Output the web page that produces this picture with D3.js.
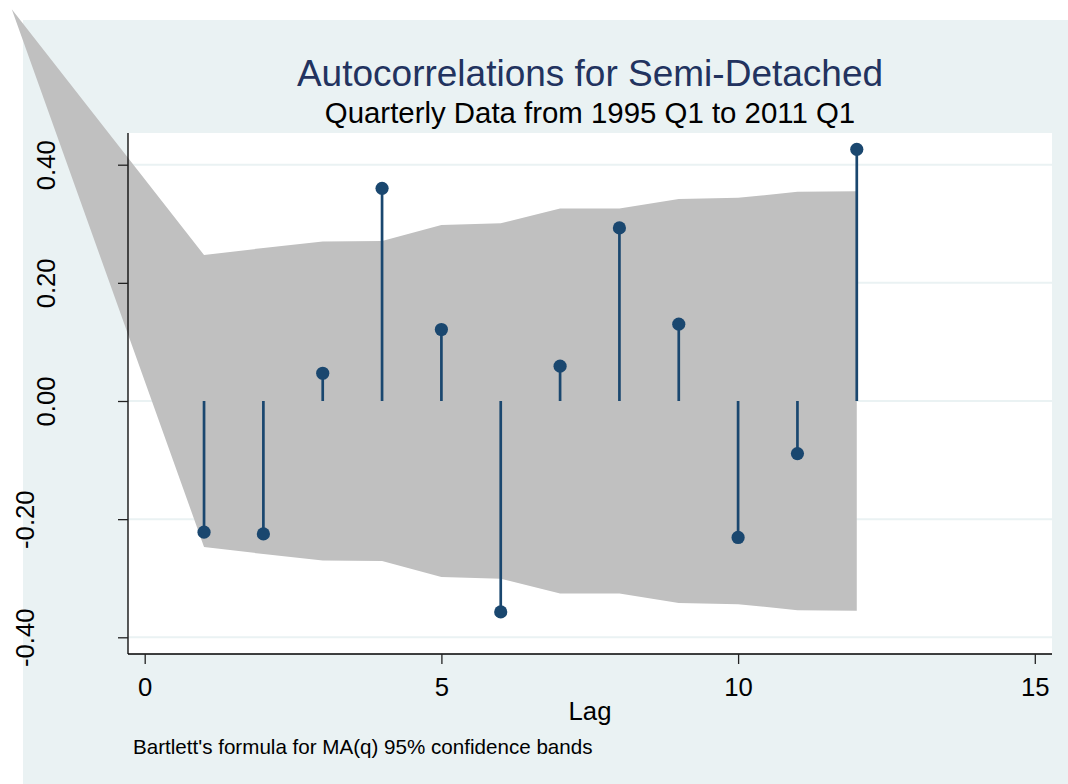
<!DOCTYPE html>
<html>
<head>
<meta charset="utf-8">
<script src="https://cdn.jsdelivr.net/npm/d3@7"></script>
<style>
  html, body { margin: 0; padding: 0; background: #ffffff; }
  svg { display: block; font-family: "Liberation Sans", Arial, sans-serif; }
</style>
</head>
<body>
<svg id="chart" width="1068" height="784"></svg>
<script>
// Autocorrelation estimates by lag
const lags = [1, 2, 3, 4, 5, 6, 7, 8, 9, 10, 11, 12];
const acf = [-0.222, -0.225, 0.047, 0.360, 0.121, -0.357, 0.059, 0.293, 0.130, -0.231, -0.089, 0.426];

// Bartlett 95% confidence band; the first vertex is where the band closes
const bandLags = [-2.24, 1, 2, 3, 4, 5, 6, 7, 8, 9, 10, 11, 12];
const bandUpper = [0.663, 0.247, 0.259, 0.270, 0.271, 0.298, 0.301, 0.326, 0.326, 0.342, 0.344, 0.354, 0.355];
const bandLower = [0.663, -0.247, -0.259, -0.270, -0.271, -0.298, -0.301, -0.326, -0.326, -0.342, -0.344, -0.354, -0.355];

// Axis ticks
const xTicks = [0, 5, 10, 15];
const yTicks = [-0.4, -0.2, 0, 0.2, 0.4];
const yTickLabels = ["-0.40", "-0.20", "0.00", "0.20", "0.40"];

const titleText = "Autocorrelations for Semi-Detached";
const subtitleText = "Quarterly Data from 1995 Q1 to 2011 Q1";
const xTitle = "Lag";
const noteText = "Bartlett's formula for MA(q) 95% confidence bands";

const svg = d3.select("#chart");
const W = 1068, H = 784;
const region = { left: 128, right: 1052, top: 133, bottom: 654 };

const x = d3.scaleLinear().domain([0, 15]).range([144.7, 1034.8]);
const y = d3.scaleLinear().domain([-0.4, 0.4]).range([637.3, 164.7]);

// Outer graph background
svg.append("rect").attr("x", 23).attr("y", 20).attr("width", W - 23).attr("height", H - 20)
  .attr("fill", "#eaf2f3");

// Plot region
svg.append("rect").attr("x", region.left).attr("y", region.top)
  .attr("width", region.right - region.left).attr("height", region.bottom - region.top)
  .attr("fill", "#ffffff");

// Horizontal gridlines
svg.append("g").selectAll("line").data(yTicks).join("line")
  .attr("x1", region.left).attr("x2", region.right)
  .attr("y1", d => y(d)).attr("y2", d => y(d))
  .attr("stroke", "#eaf2f3").attr("stroke-width", 2);

// Confidence band
const bandData = bandLags.map((l, i) => ({ lag: l, lo: bandLower[i], hi: bandUpper[i] }));
svg.append("path").datum(bandData)
  .attr("d", d3.area().x(d => x(d.lag)).y0(d => y(d.lo)).y1(d => y(d.hi)))
  .attr("fill", "#c0c0c0");

// Axes
const yAxis = d3.axisLeft(y).tickValues(yTicks).tickSize(10).tickFormat((d, i) => yTickLabels[i]);
const gy = svg.append("g").attr("transform", `translate(${region.left},0)`).call(yAxis);
gy.select(".domain").attr("d", `M0,${region.top}V${region.bottom}`).attr("stroke", "#000").attr("stroke-width", 1.3);
gy.selectAll(".tick line").attr("stroke", "#222").attr("stroke-width", 1.3);
// vertical labels: negative labels sit one step further from the axis
gy.selectAll(".tick text")
  .attr("x", 0).attr("y", 0)
  .attr("transform", d => `translate(${(d < 0 ? 34 : 55) - region.left},0) rotate(-90)`)
  .attr("text-anchor", "middle")
  .attr("dy", 0)
  .attr("fill", "#000")
  .style("font-size", "25.7px");

const xAxis = d3.axisBottom(x).tickValues(xTicks).tickSize(10).tickFormat(d3.format("d"));
const gx = svg.append("g").attr("transform", `translate(0,${region.bottom})`).call(xAxis);
gx.select(".domain").attr("d", `M${region.left},0H${region.right}`).attr("stroke", "#000").attr("stroke-width", 1.3);
gx.selectAll(".tick line").attr("stroke", "#222").attr("stroke-width", 1.3);
gx.selectAll(".tick text")
  .attr("y", 42).attr("dy", 0)
  .attr("fill", "#000")
  .style("font-size", "25.7px");

// Spikes and markers
const pts = lags.map((l, i) => ({ lag: l, v: acf[i] }));
svg.append("g").selectAll("line").data(pts).join("line")
  .attr("x1", d => x(d.lag)).attr("x2", d => x(d.lag))
  .attr("y1", y(0)).attr("y2", d => y(d.v))
  .attr("stroke", "#1a476f").attr("stroke-width", 2.7);
svg.append("g").selectAll("circle").data(pts).join("circle")
  .attr("cx", d => x(d.lag)).attr("cy", d => y(d.v)).attr("r", 6.6)
  .attr("fill", "#1a476f");

// Titles and notes
const cx = (region.left + region.right) / 2;
svg.append("text").attr("x", cx).attr("y", 85.5).attr("text-anchor", "middle")
  .attr("fill", "#22335f").style("font-size", "37px").text(titleText);
svg.append("text").attr("x", cx).attr("y", 123).attr("text-anchor", "middle")
  .attr("fill", "#000").style("font-size", "29.4px").text(subtitleText);
svg.append("text").attr("x", cx).attr("y", 720).attr("text-anchor", "middle")
  .attr("fill", "#000").style("font-size", "25.7px").text(xTitle);
svg.append("text").attr("x", 133).attr("y", 753.5)
  .attr("fill", "#000").style("font-size", "20.6px").text(noteText);
</script>
</body>
</html>
